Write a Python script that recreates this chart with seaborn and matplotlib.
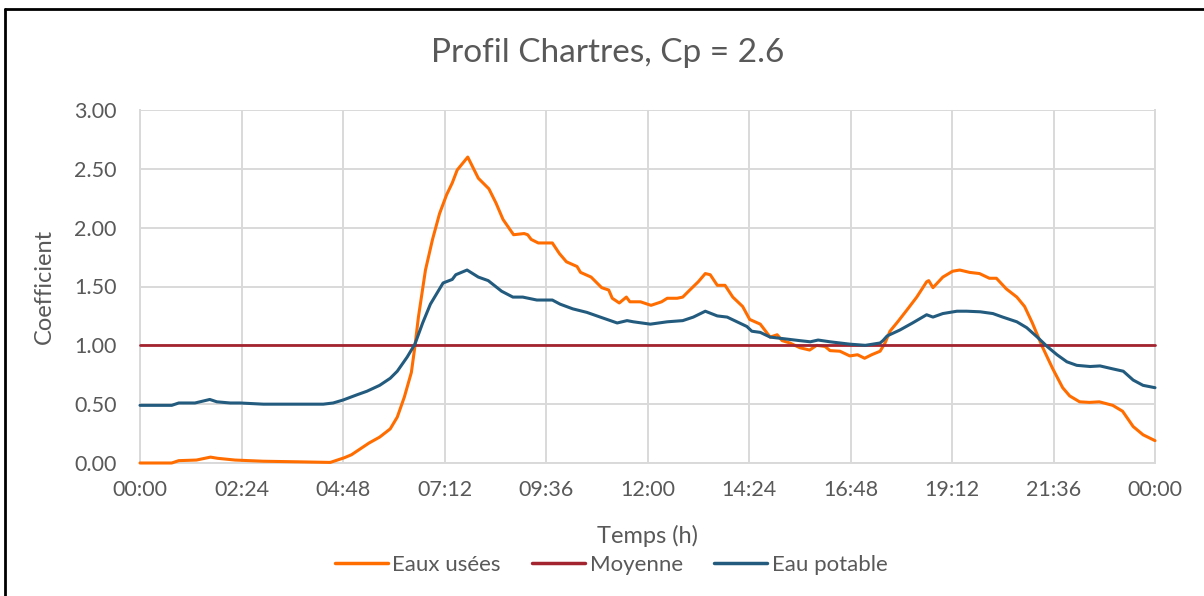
import matplotlib
matplotlib.use("Agg")
import matplotlib.pyplot as plt
from matplotlib.lines import Line2D
from matplotlib.ticker import FuncFormatter, MultipleLocator
import numpy as np
import pandas as pd
import seaborn as sns

# Daily flow profiles, time in minutes since midnight
eaux_usees_t = [0, 45, 55, 80, 100, 110, 135, 175, 225, 270, 290, 300, 315, 325, 340,
                355, 365, 375, 385, 390, 395, 405, 415, 425, 435, 443, 450, 465, 480,
                495, 505, 515, 530, 545, 550, 555, 565, 585, 595, 605, 620, 625, 640,
                655, 665, 670, 680, 690, 695, 710, 725, 740, 748, 762, 770, 780, 792,
                802, 809, 819, 830, 841, 855, 865, 880, 894, 904, 911, 922, 936, 950,
                960, 972, 979, 993, 1007, 1018, 1028, 1038, 1050, 1057, 1064, 1075,
                1088, 1102, 1116, 1119, 1125, 1139, 1153, 1163, 1177, 1191, 1205, 1215,
                1229, 1244, 1255, 1266, 1280, 1295, 1309, 1319, 1333, 1347, 1361, 1380,
                1394, 1409, 1423, 1440]
eaux_usees_v = [0.00, 0.00, 0.02, 0.025, 0.05, 0.04, 0.025, 0.015, 0.01, 0.005, 0.045,
                0.07, 0.13, 0.17, 0.22, 0.29, 0.39, 0.56, 0.77, 0.99, 1.24, 1.64, 1.90,
                2.12, 2.28, 2.38, 2.49, 2.60, 2.42, 2.33, 2.21, 2.07, 1.94, 1.95, 1.94,
                1.90, 1.87, 1.87, 1.78, 1.71, 1.67, 1.62, 1.58, 1.49, 1.47, 1.40, 1.36,
                1.41, 1.37, 1.37, 1.34, 1.37, 1.40, 1.40, 1.41, 1.47, 1.54, 1.61, 1.60,
                1.51, 1.51, 1.41, 1.33, 1.22, 1.18, 1.07, 1.09, 1.04, 1.02, 0.98, 0.96,
                1.00, 0.99, 0.955, 0.95, 0.91, 0.92, 0.89, 0.92, 0.95, 1.02, 1.12, 1.20,
                1.30, 1.41, 1.54, 1.55, 1.49, 1.58, 1.63, 1.64, 1.62, 1.61, 1.57, 1.57,
                1.48, 1.41, 1.33, 1.19, 0.99, 0.80, 0.64, 0.57, 0.52, 0.515, 0.52, 0.49,
                0.44, 0.31, 0.24, 0.19]

eau_potable_t = [0, 45, 55, 78, 99, 109, 128, 142, 175, 260, 274, 288, 308, 322, 340,
                 355, 365, 379, 390, 401, 412, 430, 443, 448, 464, 480, 494, 513, 529,
                 543, 563, 585, 596, 614, 634, 653, 677, 691, 700, 724, 748, 770, 785,
                 802, 819, 833, 847, 861, 868, 880, 894, 908, 922, 936, 951, 962, 979,
                 1007, 1029, 1050, 1054, 1060, 1078, 1096, 1116, 1125, 1139, 1159, 1173,
                 1192, 1210, 1224, 1244, 1258, 1273, 1287, 1301, 1315, 1329, 1348, 1362,
                 1380, 1395, 1409, 1423, 1440]
eau_potable_v = [0.49, 0.49, 0.51, 0.51, 0.54, 0.52, 0.51, 0.51, 0.50, 0.50, 0.51,
                 0.535, 0.58, 0.61, 0.66, 0.72, 0.78, 0.90, 1.01, 1.19, 1.35, 1.53,
                 1.56, 1.60, 1.64, 1.58, 1.55, 1.46, 1.41, 1.41, 1.385, 1.385, 1.35,
                 1.31, 1.28, 1.24, 1.19, 1.21, 1.20, 1.18, 1.20, 1.21, 1.24, 1.29, 1.25,
                 1.24, 1.20, 1.16, 1.12, 1.11, 1.07, 1.06, 1.05, 1.04, 1.03, 1.045, 1.03,
                 1.01, 1.00, 1.02, 1.04, 1.08, 1.13, 1.19, 1.26, 1.24, 1.27, 1.29, 1.29,
                 1.285, 1.27, 1.24, 1.20, 1.15, 1.07, 0.99, 0.92, 0.86, 0.83, 0.82,
                 0.825, 0.80, 0.78, 0.705, 0.66, 0.64]

moyenne_t = [0, 1440]
moyenne_v = [1.0, 1.0]

series_names = ["Eaux usées", "Moyenne", "Eau potable"]
colors = {"Eaux usées": "#FF6D00", "Moyenne": "#A3232F", "Eau potable": "#235B7E"}

df = pd.concat([
    pd.DataFrame({"t": eaux_usees_t, "v": eaux_usees_v, "serie": "Eaux usées"}),
    pd.DataFrame({"t": moyenne_t, "v": moyenne_v, "serie": "Moyenne"}),
    pd.DataFrame({"t": eau_potable_t, "v": eau_potable_v, "serie": "Eau potable"}),
], ignore_index=True)

sns.set_theme(style="white")
plt.rcParams["font.family"] = ["Lato", "DejaVu Sans"]

fig = plt.figure(figsize=(12.04, 5.96), dpi=100)
ax = fig.add_axes([140 / 1204, 1 - 463 / 596, (1155 - 140) / 1204, (463 - 110) / 596])

widths = {"Eaux usées": 2.2, "Moyenne": 2.0, "Eau potable": 2.2}
for name in series_names:
    sns.lineplot(data=df[df["serie"] == name], x="t", y="v", color=colors[name],
                 linewidth=widths[name], ax=ax, estimator=None, legend=False)
for ln in ax.lines:
    ln.set_clip_on(False)
    ln.set_zorder(3)

ax.set_xlim(0, 1440)
ax.set_ylim(0, 3.0)
ax.xaxis.set_major_locator(MultipleLocator(144))
ax.yaxis.set_major_locator(MultipleLocator(0.5))
ax.xaxis.set_major_formatter(FuncFormatter(lambda x, p: f"{int(round(x)) // 60 % 24:02d}:{int(round(x)) % 60:02d}"))
ax.yaxis.set_major_formatter(FuncFormatter(lambda y, p: f"{y:.2f}"))

grid_c = "#D9D9D9"
ax.grid(True, color=grid_c, linewidth=1.4)
ax.set_axisbelow(True)
ax.spines["top"].set_visible(False)
for s in ["left", "bottom", "right"]:
    ax.spines[s].set_color(grid_c)
    ax.spines[s].set_linewidth(1.4)

tick_c = "#595959"
ax.tick_params(axis="both", length=0, labelsize=15.5, labelcolor=tick_c)
ax.tick_params(axis="x", pad=12)
ax.tick_params(axis="y", pad=17)

ax.set_xlabel("Temps (h)", fontsize=17, color=tick_c, labelpad=18)
ax.set_ylabel("Coefficient", fontsize=17, color=tick_c, labelpad=14)
fig.suptitle("Profil Chartres, Cp = 2.6", x=608 / 1204, y=1 - 53 / 596, va="center",
             fontsize=24, color=tick_c)

handles = [Line2D([], [], color=colors[n], linewidth=2.5) for n in series_names]
fig.legend(handles, series_names, loc="center", bbox_to_anchor=(611 / 1204, 1 - 565 / 596),
           ncol=3, frameon=False, fontsize=16, labelcolor=tick_c, handlelength=2.4,
           handletextpad=0.2, columnspacing=1.4)

# Outer frame edges
fig.add_artist(Line2D([4.5 / 1204, 4.5 / 1204], [0, 1 - 9 / 596], color="black",
                      linewidth=2.0, transform=fig.transFigure))
fig.add_artist(Line2D([4.5 / 1204, 1], [1 - 9 / 596, 1 - 9 / 596], color="black",
                      linewidth=2.0, transform=fig.transFigure))

fig.savefig("out.png", dpi=100)
